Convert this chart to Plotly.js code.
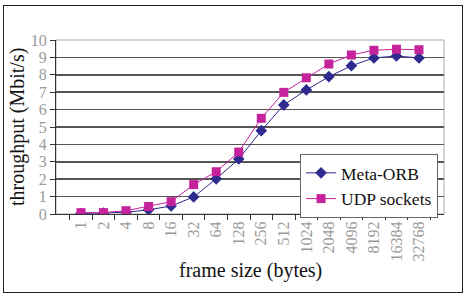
<!DOCTYPE html>
<html>
<head>
<meta charset="utf-8">
<script src="https://cdn.plot.ly/plotly-3.0.1.min.js"></script>
<style>
html,body{margin:0;padding:0;background:#fff;}
#frame{position:absolute;left:3px;top:5px;width:458px;height:286px;border:1.5px solid #222;}
#chart{position:absolute;left:0;top:0;width:466px;height:296px;}
</style>
</head>
<body>
<div id="frame"></div>
<div id="chart"></div>
<script>
const frameSizes = ["1","2","4","8","16","32","64","128","256","512","1024","2048","4096","8192","16384","32768"];
const metaOrb = [0.03,0.05,0.1,0.24,0.46,0.98,2.02,3.16,4.79,6.27,7.13,7.89,8.52,8.97,9.08,8.97];
const udpSockets = [0.08,0.08,0.19,0.43,0.71,1.69,2.43,3.56,5.5,6.99,7.83,8.62,9.14,9.41,9.47,9.44];
const yTicks = [0,1,2,3,4,5,6,7,8,9,10];
const xTitle = "frame size (bytes)";
const yTitle = "throughput (Mbit/s)";

const serif = "Liberation Serif, Times New Roman, serif";
const traces = [
  {x: frameSizes, y: metaOrb, name: "Meta-ORB", type: "scatter", mode: "lines+markers",
   line: {color: "#2E2A8E", width: 1}, marker: {symbol: "diamond", size: 9, color: "#2E2A8E"}},
  {x: frameSizes, y: udpSockets, name: "UDP sockets", type: "scatter", mode: "lines+markers",
   line: {color: "#C4239C", width: 1}, marker: {symbol: "square", size: 9, color: "#C4239C"}}
];
const layout = {
  width: 466, height: 296,
  margin: {l: 56, r: 22, t: 40, b: 82},
  paper_bgcolor: "rgba(0,0,0,0)", plot_bgcolor: "#fff",
  showlegend: true,
  legend: {x: 0.629, y: 0.345, xanchor: "left", yanchor: "top", bgcolor: "#fff",
           bordercolor: "#666", borderwidth: 1, font: {family: serif, size: 17.5, color: "#111"},
           tracegroupgap: 0, itemwidth: 30},
  xaxis: {type: "category", tickson: "boundaries", ticks: "outside", ticklen: 5, tickcolor: "#333",
          showline: true, linecolor: "#333", linewidth: 1, showgrid: false, tickangle: -90,
          tickfont: {family: serif, size: 16, color: "#9a9a9a"},
          automargin: false, fixedrange: true},
  yaxis: {range: [0, 10], tickvals: yTicks, ticks: "outside", ticklen: 5, tickcolor: "#333",
          showline: true, linecolor: "#333", linewidth: 1, showgrid: true, gridcolor: "#555", gridwidth: 1.5,
          zeroline: false, tickfont: {family: serif, size: 16, color: "#9a9a9a"},
          automargin: false, fixedrange: true},
  annotations: [
    {text: xTitle, xref: "paper", yref: "paper", x: 0.5, y: 0, xanchor: "center", yanchor: "middle",
     yshift: -56, showarrow: false, font: {family: serif, size: 20, color: "#111"}},
    {text: yTitle, xref: "paper", yref: "paper", x: 0, y: 0.5, xanchor: "center", yanchor: "middle",
     xshift: -39, textangle: -90, showarrow: false, font: {family: serif, size: 20, color: "#111"}}
  ],
  shapes: [{type: "rect", xref: "paper", yref: "paper", x0: 0, x1: 1, y0: 0, y1: 1,
            line: {color: "#aaa", width: 1}, layer: "below"}]
};
Plotly.newPlot("chart", traces, layout, {staticPlot: true, displayModeBar: false});
</script>
</body>
</html>
